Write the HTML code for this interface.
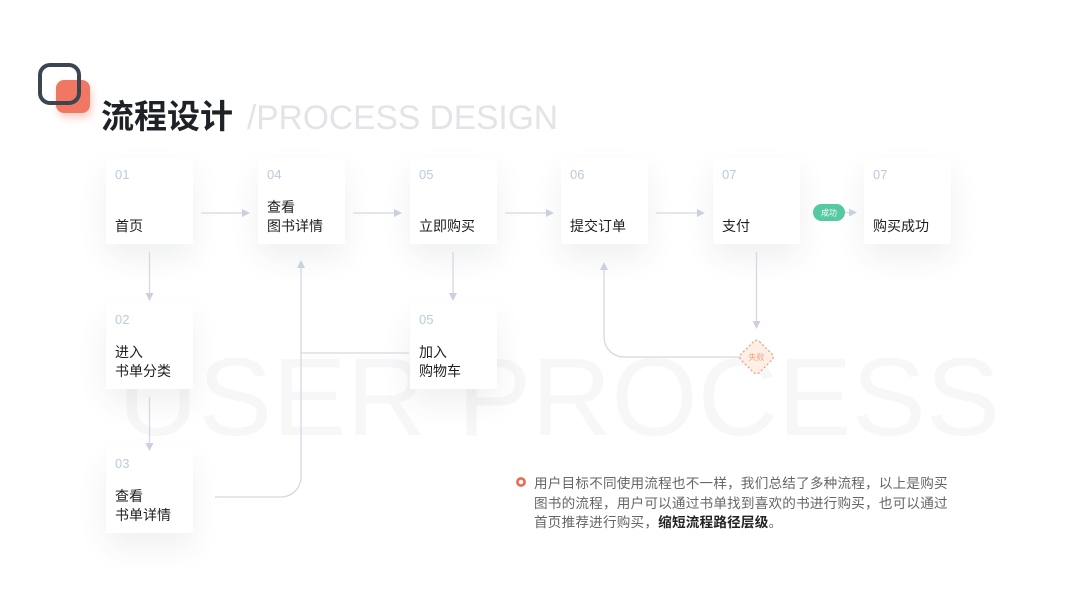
<!DOCTYPE html>
<html><head><meta charset="utf-8"><style>
html,body{margin:0;padding:0;background:#fff;}
body{width:1067px;height:600px;position:relative;overflow:hidden;font-family:"Liberation Sans","Noto Sans CJK SC",sans-serif;}
svg{position:absolute;left:0;top:0;}
.box{position:absolute;width:87px;height:86px;background:#fff;box-shadow:0 14px 30px rgba(40,50,70,0.075);}
.num{position:absolute;left:9px;top:10px;font-size:13px;line-height:14px;color:#bccadb;font-family:"Liberation Sans",sans-serif;}
.lab{position:absolute;left:9px;bottom:8.5px;font-size:14px;line-height:19px;color:#1e1e1e;font-family:"Liberation Sans","Noto Sans CJK SC",sans-serif;white-space:nowrap;}
.para{position:absolute;left:534px;top:474px;font-size:13.6px;line-height:19.5px;letter-spacing:0.2px;color:#666;font-family:"Liberation Sans","Noto Sans CJK SC",sans-serif;white-space:nowrap;}
.para b{color:#222;font-weight:bold;}
</style></head><body>
<svg width="1067" height="600" viewBox="0 0 1067 600">
<defs>
<filter id="og" x="-50%" y="-50%" width="200%" height="200%"><feGaussianBlur stdDeviation="4"/></filter>
</defs>
<text x="118" y="435" font-family="Liberation Sans, sans-serif" font-size="110" fill="#f7f7f8" textLength="882" lengthAdjust="spacingAndGlyphs">USER PROCESS</text>
<rect x="58" y="85" width="34" height="33" rx="8" fill="#f07762" opacity="0.35" filter="url(#og)"/>
<rect x="56" y="80" width="34" height="33" rx="8" fill="#f07762"/>
<rect x="40" y="65" width="39" height="38" rx="10" fill="none" stroke="#3b4652" stroke-width="4"/>
<text x="101" y="128" font-family="Noto Sans CJK SC, sans-serif" font-weight="700" font-size="33" fill="#1e2126">流程设计</text>
<text x="247" y="129" font-family="Liberation Sans, sans-serif" font-size="34" fill="#e3e4e7" textLength="311" lengthAdjust="spacingAndGlyphs">/PROCESS DESIGN</text>
</svg>

<div class="box" style="left:106px;top:158px"><div class="num">01</div><div class="lab">首页</div></div>
<div class="box" style="left:258px;top:158px"><div class="num">04</div><div class="lab">查看<br>图书详情</div></div>
<div class="box" style="left:410px;top:158px"><div class="num">05</div><div class="lab">立即购买</div></div>
<div class="box" style="left:561px;top:158px"><div class="num">06</div><div class="lab">提交订单</div></div>
<div class="box" style="left:713px;top:158px"><div class="num">07</div><div class="lab">支付</div></div>
<div class="box" style="left:864px;top:158px"><div class="num">07</div><div class="lab">购买成功</div></div>
<div class="box" style="left:106px;top:303px"><div class="num">02</div><div class="lab">进入<br>书单分类</div></div>
<div class="box" style="left:410px;top:303px"><div class="num">05</div><div class="lab">加入<br>购物车</div></div>
<div class="box" style="left:106px;top:447px"><div class="num">03</div><div class="lab">查看<br>书单详情</div></div>

<svg width="1067" height="600" viewBox="0 0 1067 600">
<g stroke="#d2d9e4" stroke-width="1.3" fill="none">
<line x1="201" y1="213" x2="243" y2="213"/>
<line x1="353" y1="213" x2="395" y2="213"/>
<line x1="505" y1="213" x2="547" y2="213"/>
<line x1="656" y1="213" x2="698" y2="213"/>
<line x1="845" y1="212.5" x2="850" y2="212.5"/>
<line x1="149.5" y1="252" x2="149.5" y2="294"/>
<line x1="149.5" y1="397" x2="149.5" y2="444"/>
<line x1="453" y1="252" x2="453" y2="294"/>
<line x1="756.5" y1="252" x2="756.5" y2="322"/>
<path d="M215 497 H281 A20 20 0 0 0 301 477 V267"/>
<path d="M409 353 H301"/>
<path d="M740 357 H624 A20 20 0 0 1 604 337 V269"/>
</g>
<g fill="#c9d1de">
<polygon points="250,213 242,209 242,217"/>
<polygon points="402,213 394,209 394,217"/>
<polygon points="554,213 546,209 546,217"/>
<polygon points="705,213 697,209 697,217"/>
<polygon points="857,212.5 849,208.5 849,216.5"/>
<polygon points="149.5,301 145.5,293 153.5,293"/>
<polygon points="149.5,451 145.5,443 153.5,443"/>
<polygon points="453,301 449,293 457,293"/>
<polygon points="756.5,329 752.5,321 760.5,321"/>
<polygon points="301,260 297,268 305,268"/>
<polygon points="604,262 600,270 608,270"/>
</g>
<rect x="813" y="204" width="32" height="17" rx="8.5" fill="#55c9a2"/>
<text x="829" y="215.3" text-anchor="middle" font-family="Noto Sans CJK SC, sans-serif" font-size="8" fill="#fff">成功</text>
<rect x="743.5" y="344" width="26" height="26" rx="4" transform="rotate(45 756.5 357)" fill="#fdeee6" stroke="#f0a080" stroke-width="1.2" stroke-dasharray="2.2 2"/>
<text x="756.5" y="360" text-anchor="middle" font-family="Noto Sans CJK SC, sans-serif" font-size="8" fill="#f0a080">失败</text>
<circle cx="521" cy="482" r="3.6" fill="#fff" stroke="#ee6a4f" stroke-width="2.6"/>
</svg>

<div class="para">用户目标不同使用流程也不一样，我们总结了多种流程，以上是购买<br>图书的流程，用户可以通过书单找到喜欢的书进行购买，也可以通过<br>首页推荐进行购买，<b>缩短流程路径层级</b>。</div>
</body></html>
